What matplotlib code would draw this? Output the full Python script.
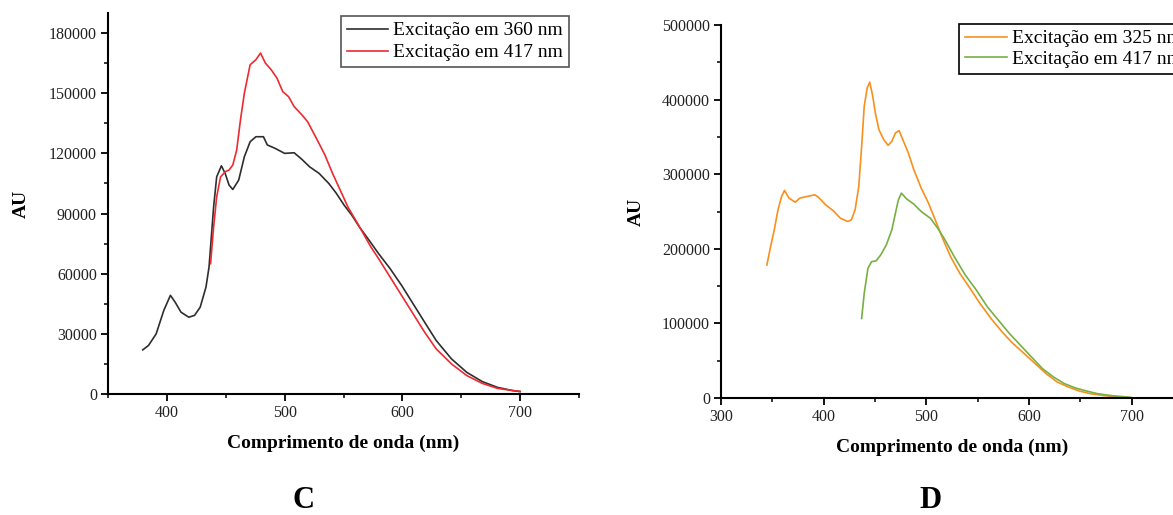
import matplotlib
matplotlib.use("Agg")
import matplotlib.pyplot as plt
from matplotlib.ticker import MultipleLocator

plt.rcParams["font.family"] = ["Liberation Serif", "DejaVu Serif"]

# Panel C: emission spectra (wavelength in nm, intensity in AU)
wl_c_360 = [379.5, 384.4, 390.9, 397.4, 403.0, 407.0, 412.0, 418.6, 423.5, 428.3,
            433.2, 435.8, 439.7, 442.3, 446.3, 449.5, 452.8, 456.0, 461.0, 465.8,
            470.7, 475.6, 482.0, 485.3, 491.9, 500.0, 508.1, 514.7, 521.2, 529.3,
            537.5, 544.0, 550.5, 557.0, 563.5, 571.7, 579.8, 589.6, 599.3, 609.1,
            618.9, 628.7, 641.7, 654.7, 667.8, 680.8, 693.8, 700.0]
au_c_360 = [22000, 24200, 30000, 41700, 49200, 45800, 40800, 38300, 39200, 43300,
            53300, 63300, 93300, 108300, 113800, 110000, 104200, 102000, 106700, 118300,
            125800, 128300, 128300, 124200, 122500, 120000, 120300, 117000, 113300, 110000,
            105000, 100000, 94200, 89200, 83300, 76700, 70000, 62500, 54200, 45000,
            35800, 26700, 17500, 10800, 6200, 3300, 1700, 1200]

wl_c_417 = [437.1, 439.7, 442.3, 445.6, 449.5, 452.8, 456.0, 459.3, 462.5, 465.8,
            470.7, 475.6, 479.5, 483.7, 488.6, 493.5, 498.4, 503.3, 508.1, 514.7,
            519.5, 527.7, 534.2, 540.7, 547.2, 553.7, 560.3, 566.8, 573.3, 579.8,
            589.6, 599.3, 609.1, 618.9, 628.7, 641.7, 654.7, 667.8, 680.8, 693.8, 700.0]
au_c_417 = [65000, 83300, 98300, 108300, 110800, 111700, 114200, 121700, 136700, 150000,
            164200, 166700, 170000, 165000, 161700, 157500, 150800, 148300, 143300, 139200,
            135800, 126700, 119200, 110000, 101700, 93300, 86700, 80000, 73300, 67500,
            58300, 49200, 40000, 30800, 22500, 15000, 9200, 5300, 2800, 1700, 1300]

# Panel D
wl_d_325 = [344.7, 348.3, 351.9, 355.5, 359.0, 361.9, 366.2, 372.3, 376.9, 384.1,
            391.2, 394.8, 401.9, 409.1, 416.3, 423.4, 427.0, 430.6, 434.2, 437.0,
            439.5, 442.4, 444.9, 447.8, 450.3, 453.8, 458.5, 462.8, 466.4, 469.9,
            473.5, 477.1, 482.5, 487.8, 495.0, 502.1, 509.3, 516.5, 523.6, 532.6,
            541.5, 552.2, 563.0, 573.7, 584.4, 595.3, 606.0, 616.6, 627.4, 638.1,
            648.8, 659.6, 673.9, 688.2, 699.0]
au_d_325 = [178300, 203000, 225400, 252200, 270200, 278200, 268000, 262500, 268000, 270200,
            272400, 269300, 259000, 251300, 241000, 236600, 238800, 252200, 283600, 337400,
            391100, 415800, 423400, 404600, 382200, 359800, 346300, 338700, 344100, 355300,
            358400, 346300, 328400, 306000, 281400, 261200, 236600, 211900, 189500, 167100,
            149200, 126800, 106600, 88700, 73000, 59600, 46100, 32700, 21500, 14800,
            9400, 5800, 3100, 1300, 400]

wl_d_417 = [437.0, 439.5, 443.1, 446.7, 451.0, 455.6, 461.0, 466.4, 469.9, 472.8,
            475.7, 480.7, 487.8, 495.0, 503.9, 511.1, 518.2, 527.2, 537.9, 548.7,
            559.4, 570.1, 580.9, 591.6, 602.3, 613.1, 623.8, 634.5, 645.3, 656.0,
            666.7, 681.0, 699.0]
au_d_417 = [106600, 140200, 173800, 182800, 183700, 191800, 205200, 225400, 247800, 265700,
            274600, 267000, 259900, 250000, 241000, 227600, 211900, 189500, 164900, 144700,
            122300, 104400, 86500, 70800, 55100, 39400, 28200, 19300, 13400, 9400,
            5800, 3100, 900]

labels_c = ["Excitação em 360 nm", "Excitação em 417 nm"]
labels_d = ["Excitação em 325 nm", "Excitação em 417 nm"]

W, H = 1173, 515
fig = plt.figure(figsize=(W / 100, H / 100), dpi=100)


def px_axes(x0, x1, y_top, y_bot):
    return fig.add_axes([x0 / W, 1 - y_bot / H, (x1 - x0) / W, (y_bot - y_top) / H])


def style(ax):
    for side in ("top", "right"):
        ax.spines[side].set_visible(False)
    for side in ("left", "bottom"):
        ax.spines[side].set_linewidth(1.5)
        ax.spines[side].set_color("black")
    ax.tick_params(which="major", direction="out", length=5, width=1.3,
                   labelsize=11.5, pad=3, colors="black", labelcolor="#222222")
    ax.tick_params(which="minor", direction="out", length=3, width=1.1, colors="black")
    ax.set_xlabel("Comprimento de onda (nm)", fontsize=14, fontweight="bold", labelpad=10)
    ax.set_ylabel("AU", fontsize=14, fontweight="bold")


# Panel C
ax1 = px_axes(108, 579, 13, 394)
ax1.plot(wl_c_360, au_c_360, color="#2e2e2e", lw=1.2, label=labels_c[0])
ax1.plot(wl_c_417, au_c_417, color="#ec2a30", lw=1.2, label=labels_c[1])
ax1.set_xlim(350, 750)
ax1.set_ylim(0, 190000)
ax1.xaxis.set_major_locator(MultipleLocator(100))
ax1.xaxis.set_minor_locator(MultipleLocator(50))
ax1.yaxis.set_major_locator(MultipleLocator(30000))
ax1.yaxis.set_minor_locator(MultipleLocator(15000))
style(ax1)
ax1.yaxis.set_label_coords(-0.165, 0.5)
leg1 = ax1.legend(loc="upper right", bbox_to_anchor=(569 / W, 1 - 16 / H),
                  bbox_transform=fig.transFigure, borderaxespad=0, fontsize=14,
                  fancybox=False, framealpha=1, edgecolor="#555555",
                  handlelength=2.15, handletextpad=0.25, borderpad=0.3,
                  labelspacing=0.22)
leg1.get_frame().set_linewidth(1.2)
fig.text(303 / W, 1 - 500 / H, "C", ha="center", va="center", fontsize=22,
         fontweight="bold")

# Panel D
ax2 = px_axes(721, 1183, 25, 398)
ax2.plot(wl_d_325, au_d_325, color="#f7901e", lw=1.2, label=labels_d[0])
ax2.plot(wl_d_417, au_d_417, color="#76b043", lw=1.2, label=labels_d[1])
ax2.set_xlim(300, 750)
ax2.set_ylim(0, 500000)
ax2.xaxis.set_major_locator(MultipleLocator(100))
ax2.xaxis.set_minor_locator(MultipleLocator(50))
ax2.yaxis.set_major_locator(MultipleLocator(100000))
ax2.yaxis.set_minor_locator(MultipleLocator(50000))
style(ax2)
ax2.yaxis.set_label_coords(-0.165, 0.5)
leg2 = ax2.legend(loc="upper left", bbox_to_anchor=(959 / W, 1 - 24 / H),
                  bbox_transform=fig.transFigure, borderaxespad=0, fontsize=14,
                  fancybox=False, framealpha=1, edgecolor="black",
                  handlelength=2.15, handletextpad=0.25, borderpad=0.3,
                  labelspacing=0.15)
leg2.get_frame().set_linewidth(1.2)
fig.text(930 / W, 1 - 500 / H, "D", ha="center", va="center", fontsize=22,
         fontweight="bold")

fig.savefig("out.png", dpi=100, facecolor="white")
